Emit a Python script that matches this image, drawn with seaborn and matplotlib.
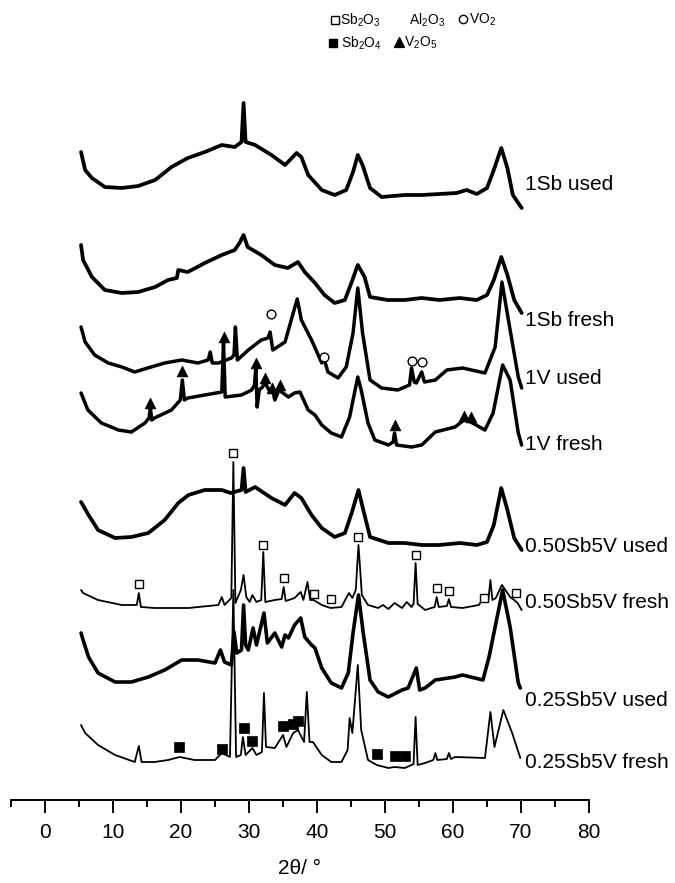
import matplotlib
matplotlib.use("Agg")
import matplotlib.pyplot as plt
import seaborn as sns
import pandas as pd

# ---------------- data (2theta in degrees, intensity in arbitrary offset units) ----------------
tt_1sb_used = [5.3, 5.9, 6.9, 8.8, 11.3, 13.7, 16.2, 18.6, 21.0, 23.5, 26.0, 27.9, 28.9, 29.2, 29.5,
               30.9, 33.3, 35.3, 37.0, 37.7, 38.7, 40.7, 42.6, 44.3, 45.3, 46.0, 46.7, 47.8, 49.5, 52.9,
               55.4, 58.0, 60.5, 62.0, 63.5, 65.0, 66.0, 67.1, 68.0, 68.8, 69.5, 70.1]
i_1sb_used = [648, 630, 622, 613, 612, 614, 620, 633, 642, 648, 655, 653, 658, 697, 658,
              655, 645, 635, 647, 643, 625, 610, 605, 610, 628, 645, 635, 612, 603, 605,
              605, 606, 607, 610, 606, 612, 630, 652, 632, 605, 598, 592]

tt_1sb_fresh = [5.3, 5.6, 6.9, 8.8, 11.3, 13.7, 16.2, 18.1, 19.4, 19.6, 21.0, 23.5, 26.0, 27.9, 28.6,
                29.2, 29.8, 31.8, 33.8, 35.7, 37.2, 38.2, 39.7, 41.1, 42.6, 44.1, 45.1, 46.0, 47.0, 47.8,
                50.4, 52.9, 55.4, 58.0, 61.0, 63.5, 65.0, 66.0, 67.1, 68.0, 69.0, 70.1]
i_1sb_fresh = [555, 540, 523, 510, 507, 508, 513, 520, 522, 530, 528, 537, 545, 550, 557,
               565, 553, 545, 535, 532, 538, 528, 517, 505, 497, 500, 518, 535, 523, 503,
               500, 500, 502, 500, 502, 500, 505, 520, 543, 525, 500, 487]

tt_1v_used = [5.3, 5.9, 7.3, 9.3, 11.3, 13.2, 15.1, 17.6, 20.1, 22.5, 24.0, 24.3, 24.6, 25.5, 27.4,
              27.8, 28.0, 28.3, 29.9, 31.8, 32.8, 33.1, 33.5, 35.3, 36.5, 37.1, 37.7, 39.2, 40.7, 41.1,
              41.6, 43.1, 44.3, 45.3, 46.0, 46.7, 47.8, 49.5, 51.9, 53.6, 53.9, 54.3, 54.6, 55.4, 55.8,
              57.4, 59.1, 61.4, 64.7, 66.2, 67.2, 68.4, 69.6, 70.1]
i_1v_used = [473, 458, 445, 437, 433, 428, 432, 437, 440, 437, 440, 448, 437, 437, 442,
             445, 473, 440, 450, 460, 462, 468, 450, 458, 487, 501, 480, 460, 437, 440,
             428, 422, 433, 467, 512, 467, 420, 412, 410, 415, 432, 418, 417, 428, 418,
             420, 430, 432, 427, 453, 518, 470, 423, 412]

tt_1v_fresh = [5.3, 6.3, 8.3, 10.8, 12.7, 14.7, 15.3, 15.5, 15.7, 16.1, 18.6, 19.9, 20.2, 20.5, 21.0,
               23.5, 26.0, 26.25, 26.5, 28.9, 30.4, 30.8, 31.0, 31.2, 31.5, 32.0, 32.3, 33.1, 33.4, 33.8,
               34.4, 35.8, 36.7, 37.5, 38.7, 39.7, 40.7, 42.1, 43.6, 44.8, 45.6, 46.0, 46.5, 47.5, 48.5,
               50.5, 51.2, 51.4, 51.7, 53.9, 55.4, 57.4, 60.3, 61.6, 62.6, 64.7, 65.9, 67.3, 68.4, 69.6,
               70.1]
i_1v_fresh = [407, 390, 377, 370, 368, 377, 382, 392, 380, 382, 390, 400, 420, 400, 402,
              405, 408, 458, 403, 405, 410, 415, 432, 393, 410, 413, 418, 408, 412, 400,
              410, 403, 407, 408, 390, 385, 375, 367, 363, 383, 410, 423, 410, 377, 360,
              355, 358, 367, 355, 353, 355, 368, 373, 380, 378, 370, 387, 435, 420, 367,
              355]

tt_050_used = [5.3, 6.4, 7.8, 10.3, 12.7, 15.2, 17.6, 19.6, 21.1, 23.5, 26.0, 27.3, 28.9, 29.2, 29.5,
               30.9, 33.3, 35.3, 36.7, 37.7, 39.2, 40.7, 42.6, 44.1, 45.1, 46.1, 46.7, 47.8, 50.5, 52.9,
               55.4, 58.0, 61.0, 63.5, 65.0, 66.0, 67.1, 68.0, 69.0, 70.1]
i_050_used = [298, 285, 270, 262, 263, 267, 280, 297, 305, 310, 310, 307, 310, 332, 308,
              313, 302, 295, 307, 302, 285, 272, 263, 267, 287, 310, 293, 263, 257, 257,
              255, 255, 257, 255, 258, 275, 312, 290, 262, 250]

tt_050_fresh = [5.3, 5.6, 7.8, 11.3, 13.5, 13.8, 14.1, 16.1, 21.1, 25.5, 26.0, 26.4, 27.4, 27.7, 28.0,
                28.8, 29.2, 29.6, 30.1, 30.5, 31.1, 31.8, 32.1, 32.4, 33.8, 34.8, 35.1, 35.4, 36.7, 37.6,
                38.0, 38.6, 39.0, 39.5, 40.7, 42.0, 43.6, 44.7, 45.2, 45.7, 46.1, 46.6, 47.5, 49.0, 49.7,
                50.5, 51.4, 52.5, 53.2, 53.9, 54.2, 54.5, 54.8, 55.9, 57.3, 57.6, 57.9, 59.1, 59.4, 59.7,
                61.4, 63.8, 64.5, 65.2, 65.5, 65.8, 66.3, 67.2, 68.4, 69.0, 69.5, 70.1]
i_050_fresh = [210, 207, 200, 195, 195, 207, 193, 192, 192, 195, 203, 195, 202, 338, 197,
               210, 225, 203, 198, 205, 198, 200, 248, 198, 200, 201, 213, 199, 202, 208,
               200, 218, 200, 200, 195, 192, 193, 207, 202, 210, 255, 205, 195, 192, 195,
               191, 197, 192, 198, 193, 196, 237, 196, 190, 193, 203, 193, 194, 201, 193,
               192, 195, 202, 200, 220, 200, 202, 215, 203, 200, 197, 190]

tt_025_used = [5.3, 5.6, 6.4, 7.8, 10.3, 12.7, 15.2, 17.6, 20.1, 22.5, 25.0, 25.8, 26.4, 27.4, 27.8,
               28.2, 28.9, 29.2, 29.5, 29.9, 30.6, 31.1, 32.2, 32.7, 33.8, 34.8, 35.3, 35.8, 36.7, 37.6,
               38.2, 39.2, 39.7, 40.7, 42.1, 43.6, 44.6, 45.3, 46.1, 46.8, 47.8, 49.0, 50.5, 52.5, 53.4,
               54.6, 55.1, 55.9, 57.4, 60.3, 61.4, 64.4, 65.3, 67.3, 68.4, 69.6, 69.9]
i_025_used = [167, 160, 143, 127, 118, 118, 123, 130, 140, 140, 137, 150, 138, 135, 168,
              147, 150, 195, 155, 150, 172, 155, 187, 157, 167, 153, 165, 162, 175, 182,
              163, 155, 152, 132, 117, 112, 127, 167, 205, 167, 120, 108, 103, 110, 112,
              132, 110, 112, 120, 123, 125, 120, 143, 210, 173, 117, 112]

tt_025_fresh = [5.3, 5.9, 7.8, 10.3, 13.2, 13.8, 14.2, 16.1, 18.1, 19.8, 22.0, 25.0, 26.0, 27.2, 27.7,
                28.1, 28.8, 29.1, 29.5, 30.5, 31.1, 31.9, 32.2, 32.5, 33.8, 35.0, 35.5, 36.5, 37.2, 38.1,
                38.5, 38.9, 39.4, 40.7, 42.1, 43.6, 44.5, 44.8, 45.2, 46.0, 46.5, 47.5, 48.8, 50.5, 51.4,
                52.9, 53.9, 54.2, 54.5, 54.8, 55.9, 57.1, 57.4, 57.7, 59.1, 59.4, 59.7, 60.3, 64.7, 65.5,
                66.1, 67.4, 68.7, 69.9]
i_025_fresh = [75, 67, 55, 45, 38, 54, 38, 38, 40, 43, 40, 40, 47, 43, 210,
               43, 45, 63, 45, 52, 45, 48, 107, 53, 52, 65, 53, 67, 70, 58,
               108, 58, 58, 45, 38, 38, 50, 82, 67, 135, 70, 40, 35, 32, 33,
               32, 35, 36, 83, 35, 37, 40, 47, 40, 41, 47, 41, 43, 42, 88,
               53, 90, 67, 42]

sample_names = ["1Sb used", "1Sb fresh", "1V used", "1V fresh",
                "0.50Sb5V used", "0.50Sb5V fresh", "0.25Sb5V used", "0.25Sb5V fresh"]
label_heights = [615, 480, 422, 355, 254, 197, 100, 37]

# phase markers (2theta, height)
sb2o3_tt = [13.8, 27.6, 32.1, 35.1, 39.6, 42.0, 46.0, 54.5, 57.6, 59.4, 64.5, 69.2]
sb2o3_h = [216, 347, 255, 222, 206, 201, 263, 245, 212, 209, 202, 207]
sb2o4_tt = [19.75, 26.0, 29.2, 30.5, 35.0, 36.5, 37.2, 48.75, 51.4, 52.9]
sb2o4_h = [53, 51, 72, 59, 74, 76, 79, 46, 44, 44]
v2o5_tt = [15.5, 20.2, 26.3, 31.0, 32.3, 33.4, 34.5, 51.4, 61.6, 62.6]
v2o5_h = [397, 429, 463, 437, 422, 412, 415, 375, 384, 383]
vo2_tt = [33.3, 41.1, 53.9, 55.4]
vo2_h = [486, 443, 439, 438]

x_ticks = [0, 10, 20, 30, 40, 50, 60, 70, 80]

# ---------------- style ----------------
sns.set_theme(style="white")
plt.rcParams["font.family"] = ["Liberation Sans", "DejaVu Sans"]
plt.rcParams["mathtext.fontset"] = "custom"
plt.rcParams["mathtext.rm"] = "Liberation Sans"
plt.rcParams["mathtext.it"] = "Liberation Sans:italic"
plt.rcParams["mathtext.bf"] = "Liberation Sans:bold"
plt.rcParams["text.color"] = "black"
plt.rcParams["axes.labelcolor"] = "black"
plt.rcParams["xtick.color"] = "black"
plt.rcParams["xtick.labelcolor"] = "black"

fig = plt.figure(figsize=(6.75, 8.83), dpi=100)
ax = fig.add_axes([11 / 675, 83 / 883, 578 / 675, 800 / 883])

traces = [
    (tt_1sb_used, i_1sb_used, 2.7),
    (tt_1sb_fresh, i_1sb_fresh, 2.7),
    (tt_1v_used, i_1v_used, 2.5),
    (tt_1v_fresh, i_1v_fresh, 2.5),
    (tt_050_used, i_050_used, 2.7),
    (tt_050_fresh, i_050_fresh, 1.3),
    (tt_025_used, i_025_used, 2.6),
    (tt_025_fresh, i_025_fresh, 1.3),
]
for tt, ii, lw in traces:
    df = pd.DataFrame({"two_theta": tt, "intensity": ii})
    sns.lineplot(data=df, x="two_theta", y="intensity", ax=ax, color="black",
                 lw=lw, sort=False, estimator=None, solid_joinstyle="round")

for name, h in zip(sample_names, label_heights):
    ax.text(70.6, h, name, fontsize=15, ha="left", va="center", color="black")

sns.scatterplot(x=sb2o3_tt, y=sb2o3_h, ax=ax, marker="s", s=38, facecolor="white",
                edgecolor="black", linewidth=1.0, zorder=5)
sns.scatterplot(x=sb2o4_tt, y=sb2o4_h, ax=ax, marker="s", s=42, color="black",
                edgecolor="black", linewidth=0.5, zorder=5)
sns.scatterplot(x=v2o5_tt, y=v2o5_h, ax=ax, marker="^", s=60, color="black",
                edgecolor="black", linewidth=0.5, zorder=5)
sns.scatterplot(x=vo2_tt, y=vo2_h, ax=ax, marker="o", s=40, facecolor="white",
                edgecolor="black", linewidth=1.0, zorder=5)

# legend drawn as key marks + text
ax.scatter([42.7], [780], marker="s", s=34, facecolor="white", edgecolor="black", lw=1.0, clip_on=False)
ax.text(43.4, 780, r"Sb$_2$O$_3$", fontsize=10, ha="left", va="center")
ax.text(53.5, 780, r"Al$_2$O$_3$", fontsize=10, ha="left", va="center")
ax.scatter([61.4], [781], marker="o", s=36, facecolor="white", edgecolor="black", lw=1.0, clip_on=False)
ax.text(62.4, 780, r"VO$_2$", fontsize=10, ha="left", va="center")
ax.scatter([42.3], [757], marker="s", s=34, color="black", clip_on=False)
ax.text(43.6, 757, r"Sb$_2$O$_4$", fontsize=10, ha="left", va="center")
ax.scatter([52.0], [758], marker="^", s=50, color="black", clip_on=False)
ax.text(52.8, 757, r"V$_2$O$_5$", fontsize=10, ha="left", va="center")

# axes
ax.set_xlim(-5, 80)
ax.set_ylim(0, 800)
for side in ["left", "right", "top"]:
    ax.spines[side].set_visible(False)
ax.spines["bottom"].set_color("black")
ax.spines["bottom"].set_linewidth(1.4)
ax.set_xticks(x_ticks)
ax.set_xticklabels([str(t) for t in x_ticks])
ax.set_xticks([-5, 5, 15, 25, 35, 45, 55, 65, 75], minor=True)
ax.tick_params(axis="x", which="major", direction="out", length=9.5, width=1.4,
               color="black", labelcolor="black", labelsize=15, pad=7, bottom=True)
ax.tick_params(axis="x", which="minor", direction="out", length=5, width=1.4,
               color="black", bottom=True)
ax.set_yticks([])
ax.set_ylabel("")
ax.set_xlabel("2θ/ °", fontsize=15, labelpad=12, color="black")
ax.patch.set_alpha(0)

fig.savefig("out.png", dpi=100)
